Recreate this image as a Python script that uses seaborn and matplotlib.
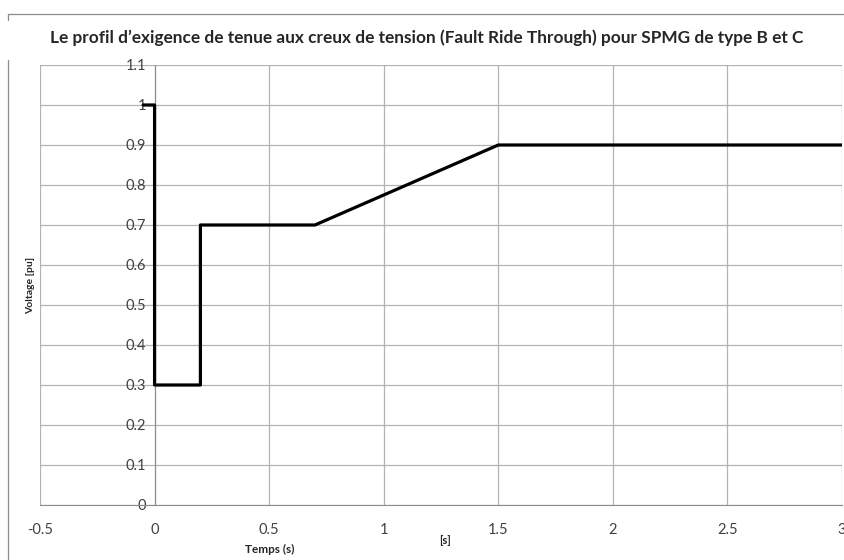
import numpy as np
import matplotlib
matplotlib.use('Agg')
import matplotlib.pyplot as plt
import seaborn as sns
from matplotlib.lines import Line2D
from matplotlib.ticker import FuncFormatter

# profil FRT (temps en s, tension en pu)
temps = [-0.05, 0, 0, 0.2, 0.2, 0.7, 1.5, 3]
tension = [1, 1, 0.3, 0.3, 0.7, 0.7, 0.9, 0.9]

x_ticks = [-0.5, 0, 0.5, 1, 1.5, 2, 2.5, 3]
y_ticks = [0, 0.1, 0.2, 0.3, 0.4, 0.5, 0.6, 0.7, 0.8, 0.9, 1, 1.1]

titre = "Le profil d\u2019exigence de tenue aux creux de tension (Fault Ride Through) pour SPMG de type B et C"

sns.set_style('white')
plt.rcParams['font.family'] = ['Lato', 'DejaVu Sans']

fig = plt.figure(figsize=(8.45, 5.6), dpi=100)
ax = fig.add_axes([40 / 845, 1 - 505 / 560, 802 / 845, 440 / 560])

sns.lineplot(x=temps, y=tension, sort=False, estimator=None, color='black',
             linewidth=2.3, ax=ax, zorder=5)

ax.set_xlim(-0.5, 3)
ax.set_ylim(0, 1.1)
ax.set_xticks(x_ticks)
ax.set_yticks(y_ticks)
fmt = FuncFormatter(lambda v, p: f'{v:g}')
ax.xaxis.set_major_formatter(fmt)
ax.yaxis.set_major_formatter(fmt)

ax.grid(True, color='#b3b3b3', linewidth=0.9)
for s in ['top', 'right']:
    ax.spines[s].set_visible(False)
ax.spines['left'].set_position(('data', 0))
ax.spines['left'].set_color('#8c8c8c')
ax.spines['bottom'].set_color('#8c8c8c')
ax.tick_params(axis='both', colors='#8c8c8c', labelcolor='#404040', labelsize=10.5,
               length=5, width=0.9, direction='out')
ax.tick_params(axis='x', pad=8)
ax.tick_params(axis='y', pad=1)
for lab in ax.get_yticklabels():
    lab.set_zorder(6)

ax.set_xlabel('')
ax.set_ylabel('')

fig.text(0.505, 1 - 38 / 560, titre, ha='center', va='center', fontsize=12.4, fontweight='bold')
fig.text(270 / 845, 1 - 549 / 560, 'Temps (s)', ha='center', va='center', fontsize=8.5, fontweight='bold')
fig.text(445 / 845, 1 - 541 / 560, '[s]', ha='center', va='center', fontsize=8, fontweight='bold')
fig.text(31 / 845, 1 - 285 / 560, 'Voltage [pu]', ha='center', va='center', rotation=90,
         fontsize=7.5, fontweight='bold')

# cadre extérieur
c = '#8c8c8c'
fig.add_artist(Line2D([8 / 845, 1], [1 - 14 / 560] * 2, color=c, linewidth=0.9))
fig.add_artist(Line2D([8 / 845] * 2, [1 - 14 / 560, 1 - 20 / 560], color=c, linewidth=0.9))
fig.add_artist(Line2D([8 / 845] * 2, [1 - 60 / 560, 0], color=c, linewidth=0.9))

fig.savefig('out.png', dpi=100)
